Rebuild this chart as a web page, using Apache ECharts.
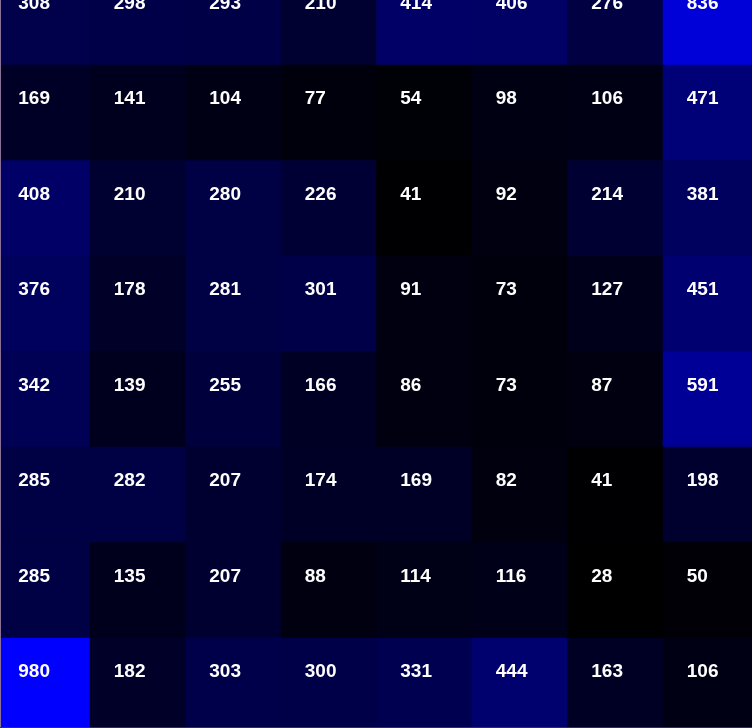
<!DOCTYPE html>
<html>
<head>
<meta charset="utf-8">
<style>
html,body{margin:0;padding:0;background:#000010;}
#chart{width:752px;height:728px;}
</style>
<script src="https://cdn.jsdelivr.net/npm/echarts@6/dist/echarts.min.js"></script>
</head>
<body>
<div id="chart"></div>
<script>
const xCategories = ['C1','C2','C3','C4','C5','C6','C7','C8'];
const yCategories = ['R1','R2','R3','R4','R5','R6','R7','R8'];
const row1 = [308, 298, 293, 210, 414, 406, 276, 836];
const row2 = [169, 141, 104, 77, 54, 98, 106, 471];
const row3 = [408, 210, 280, 226, 41, 92, 214, 381];
const row4 = [376, 178, 281, 301, 91, 73, 127, 451];
const row5 = [342, 139, 255, 166, 86, 73, 87, 591];
const row6 = [285, 282, 207, 174, 169, 82, 41, 198];
const row7 = [285, 135, 207, 88, 114, 116, 28, 50];
const row8 = [980, 182, 303, 300, 331, 444, 163, 106];
const rows = [row1, row2, row3, row4, row5, row6, row7, row8];

const data = [];
rows.forEach((r, ri) => r.forEach((v, ci) => data.push([ci, ri, v])));
const all = rows.flat();

const chart = echarts.init(document.getElementById('chart'));
chart.setOption({
  animation: false,
  backgroundColor: '#000010',
  grid: {left: -5.5, top: -30.5, width: 764, height: 764, outerBoundsMode: 'none', containLabel: false},
  xAxis: {type: 'category', data: xCategories, show: false},
  yAxis: {type: 'category', data: yCategories, inverse: true, show: false},
  visualMap: {
    show: false,
    min: Math.min(...all),
    max: Math.max(...all),
    inRange: {color: ['#000000', '#0000ff']}
  },
  series: [{
    type: 'heatmap',
    data: data,
    itemStyle: {borderWidth: 0},
    label: {
      show: true,
      position: [24, 25],
      align: 'left',
      verticalAlign: 'top',
      color: '#ffffff',
      fontFamily: 'Liberation Sans, Arial, sans-serif',
      fontWeight: 'bold',
      fontSize: 19
    }
  }],
  graphic: [
    {type: 'line', shape: {x1: 0.5, y1: 0, x2: 0.5, y2: 728}, style: {stroke: '#8a6f96', lineWidth: 1}, z: 100},
    {type: 'line', shape: {x1: 0, y1: 727.5, x2: 752, y2: 727.5}, style: {stroke: '#3a2a5a', lineWidth: 1}, z: 100}
  ]
});
</script>
</body>
</html>
